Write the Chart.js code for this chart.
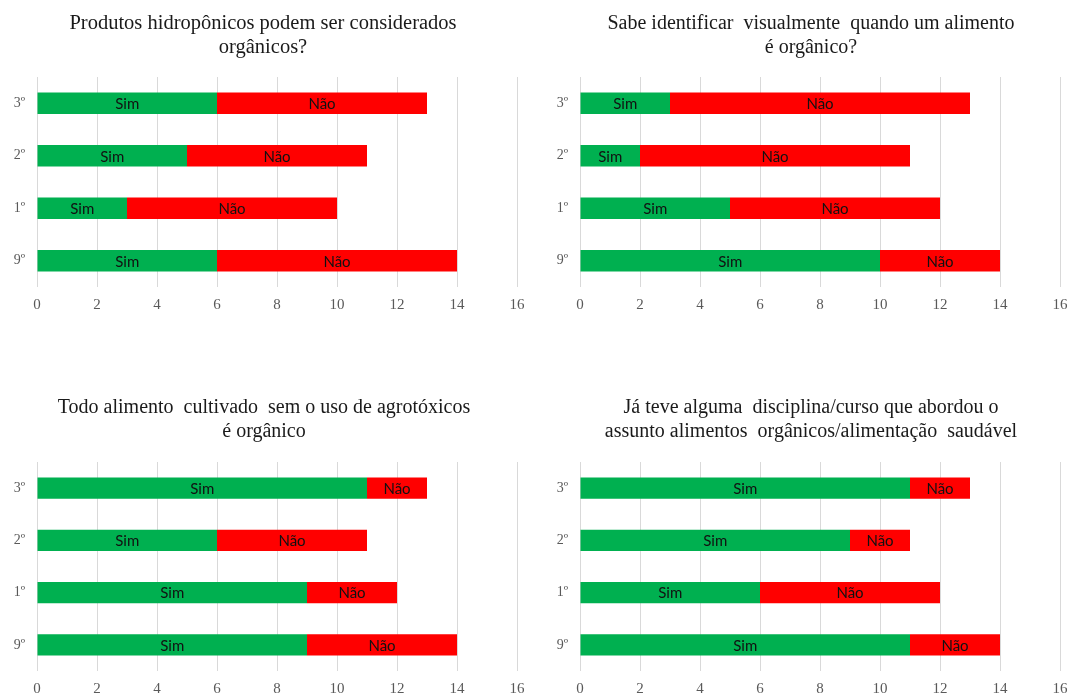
<!DOCTYPE html>
<html lang="pt">
<head>
<meta charset="utf-8">
<title>Alimentos orgânicos – respostas por série</title>
<script src="https://cdn.jsdelivr.net/npm/chart.js@4/dist/chart.umd.min.js"></script>
<style>
  html, body { margin: 0; padding: 0; background: #ffffff; }
  #wrap { position: relative; width: 1070px; height: 696px; overflow: hidden; background: #ffffff; }
  canvas { position: absolute; }
</style>
</head>
<body>
<div id="wrap">
  <canvas id="c1" width="530" height="330" style="left:0px;top:0px"></canvas>
  <canvas id="c2" width="530" height="330" style="left:540px;top:0px"></canvas>
  <canvas id="c3" width="530" height="312" style="left:0px;top:384px"></canvas>
  <canvas id="c4" width="530" height="312" style="left:540px;top:384px"></canvas>
</div>
<script>
// Séries (categorias de cima para baixo)
const grades = ['3º', '2º', '1º', '9º'];

const hidroSim  = [6, 5, 3, 6];
const hidroNao  = [7, 6, 7, 8];

const visualSim = [3, 2, 5, 10];
const visualNao = [10, 9, 7, 4];

const agroSim   = [11, 6, 9, 9];
const agroNao   = [2, 5, 3, 5];

const cursoSim  = [11, 9, 6, 11];
const cursoNao  = [2, 2, 6, 3];

const xMax = 16;
const xStep = 2;

const titles = {
  hidro:  ['Produtos hidropônicos podem ser considerados', 'orgânicos?'],
  visual: ['Sabe identificar  visualmente  quando um alimento', 'é orgânico?'],
  agro:   ['Todo alimento  cultivado  sem o uso de agrotóxicos', 'é orgânico'],
  curso:  ['Já teve alguma  disciplina/curso que abordou o', 'assunto alimentos  orgânicos/alimentação  saudável']
};

const GREEN = '#00B050';
const RED = '#FF0000';
const SERIF = '"Liberation Serif", "Times New Roman", serif';

// Writes each series name in the middle of its bar segments
const segmentLabels = {
  id: 'segmentLabels',
  afterDatasetsDraw(chart) {
    const ctx = chart.ctx;
    ctx.save();
    ctx.font = '15px Lato, "Open Sans", sans-serif';
    ctx.fillStyle = '#111111';
    ctx.textAlign = 'center';
    ctx.textBaseline = 'middle';
    chart.data.datasets.forEach((ds, di) => {
      const meta = chart.getDatasetMeta(di);
      meta.data.forEach(bar => {
        const cx = (bar.x + bar.base) / 2;
        ctx.fillText(ds.label, cx, bar.y + 1);
      });
    });
    ctx.restore();
  }
};

// Two-line heading centred on a chosen x position
const headline = {
  id: 'headline',
  afterDraw(chart, args, opts) {
    const ctx = chart.ctx;
    ctx.save();
    ctx.font = opts.size + 'px ' + SERIF;
    ctx.fillStyle = '#1a1a1a';
    ctx.textAlign = 'center';
    ctx.textBaseline = 'middle';
    opts.lines.forEach((line, i) => {
      ctx.fillText(line, opts.cx, opts.y + i * opts.lineGap);
    });
    ctx.restore();
  }
};

// geom: chart-area placement inside the canvas
function makeChart(id, titleLines, sim, nao, geom) {
  const canvas = document.getElementById(id);
  const H = canvas.height;
  return new Chart(canvas, {
    type: 'bar',
    data: {
      labels: grades,
      datasets: [
        { label: 'Sim', data: sim, backgroundColor: GREEN, borderWidth: 0 },
        { label: 'Não', data: nao, backgroundColor: RED, borderWidth: 0 }
      ]
    },
    options: {
      indexAxis: 'y',
      responsive: false,
      animation: false,
      devicePixelRatio: 1,
      categoryPercentage: 0.41,
      barPercentage: 1.0,
      layout: { padding: { left: 0, right: geom.padRight, top: geom.areaTop, bottom: 0 } },
      plugins: {
        legend: { display: false },
        tooltip: { enabled: false },
        title: { display: false },
        headline: { lines: titleLines, cx: geom.titleX, y: 24, lineGap: 24, size: geom.titleSize }
      },
      scales: {
        x: {
          stacked: true,
          min: 0,
          max: xMax,
          border: { display: false },
          grid: { color: '#d9d9d9', lineWidth: 1, drawTicks: false },
          ticks: {
            stepSize: xStep,
            padding: 9,
            color: '#595959',
            font: { family: SERIF, size: 15 }
          },
          afterFit(scale) {
            scale.height = H - geom.areaBottom;
            scale.paddingLeft = 4;
            scale.paddingRight = 8;
          }
        },
        y: {
          stacked: true,
          border: { display: false },
          grid: { display: false, drawTicks: false },
          ticks: {
            padding: 12,
            color: '#595959',
            font: { family: SERIF, size: 14 }
          },
          afterFit(scale) { scale.width = geom.yWidth; }
        }
      }
    },
    plugins: [segmentLabels, headline]
  });
}

const leftGeom   = { yWidth: 37, padRight: 13, titleX: 263, titleSize: 20.5, areaTop: 77, areaBottom: 287 };
const rightGeom  = { yWidth: 40, padRight: 10, titleX: 271, titleSize: 20,   areaTop: 77, areaBottom: 287 };
const leftGeomB  = { yWidth: 37, padRight: 13, titleX: 264, titleSize: 20,   areaTop: 78, areaBottom: 287 };
const rightGeomB = { yWidth: 40, padRight: 10, titleX: 271, titleSize: 20,   areaTop: 78, areaBottom: 287 };

makeChart('c1', titles.hidro,  hidroSim,  hidroNao,  leftGeom);
makeChart('c2', titles.visual, visualSim, visualNao, rightGeom);
makeChart('c3', titles.agro,   agroSim,   agroNao,   leftGeomB);
makeChart('c4', titles.curso,  cursoSim,  cursoNao,  rightGeomB);
</script>
</body>
</html>
